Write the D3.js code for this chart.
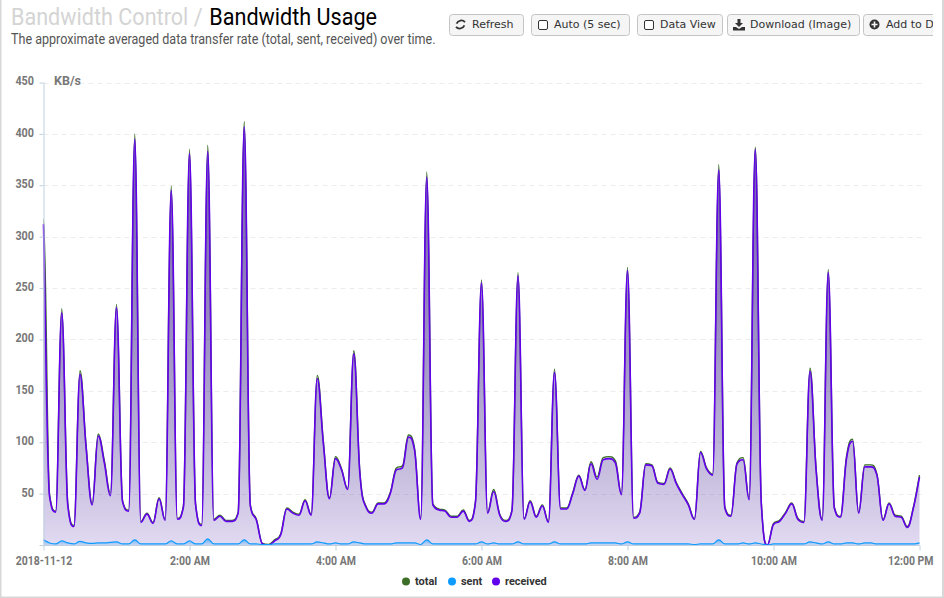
<!DOCTYPE html>
<html>
<head>
<meta charset="utf-8">
<title>Bandwidth Usage</title>
<script src="https://cdnjs.cloudflare.com/ajax/libs/d3/7.8.5/d3.min.js"></script>
<style>
    html, body { margin: 0; padding: 0; background: #fff; overflow: hidden; }
    svg { display: block; }
    text { font-family: Roboto, sans-serif; }
    .btn text { font-family: "DejaVu Sans", sans-serif; font-size: 11px; fill: #333; }
</style>
</head>
<body>
<svg id="graph" width="944" height="598"></svg>
<script>
// samples are 5 minutes apart, starting at midnight
var startTime = new Date(2018, 10, 12, 0, 0);
var received = [312,47,32,226,38,18,166,95,39,106,80,48,231,42,33,395,22,30,21,45,24,345,25,37,381,39,19,383,24,28,23,23,31,407,38,24,1,0,4,10,35,31,29,43,29,162,99,45,84,73,54,186,70,37,31,40,40,50,73,75,105,92,25,358,39,34,33,27,27,33,23,41,255,31,52,29,23,33,262,25,42,27,38,22,168,35,35,50,67,53,79,64,83,84,80,49,267,26,31,78,77,60,59,74,60,49,39,25,90,74,68,365,36,28,79,83,44,385,40,0,20,23,31,40,25,22,169,73,24,265,36,27,84,101,31,76,76,68,24,40,28,27,17,36,66];
var sent = [5,2,1,4,2,1,3.5,2,1.5,2,2,2.5,3,1,1,5,1,1,1,1,1,4,1,1,4,1,1,6,1,1,1,1,1,5,1,1,0.5,0.5,1,1,1,1,1,1,1,3,2,1,2,1,1,3,2,1,1,1,1,1,2,2,2,2,0.5,5,1,1,1,1,1,1,1,1,3,1,2,1,1,1,3,1,1,1,1,1,3,1,1,1,1,1,2,2,2,2,2,1,3,1,1,1,1,1,1,1,1,1,1,0.5,1,1,1,5,1,1,1,2,1,2,1,0,1,1,1,1,1,1,3,2,1,3,1,1,2,2,1,2,2,1,1,1,1,1,1,1,2];
var total = received.map(function (d, i) { return d + sent[i]; });

var yTicks = [0, 50, 100, 150, 200, 250, 300, 350, 400, 450];
var xTickHours = [0, 2, 4, 6, 8, 10, 12];
var xTickLabels = ["2018-11-12", "2:00 AM", "4:00 AM", "6:00 AM", "8:00 AM", "10:00 AM", "12:00 PM"];
var legendItems = [["total", "#3c6e28", 406, 415], ["sent", "#0d9bff", 452, 461], ["received", "#6200ee", 496, 505]];

// spline with 0.4 handles that never overshoots its neighbours
function softSpline(context) { this._context = context; }
softSpline.prototype = {
    areaStart: function () { this._line = 0; },
    areaEnd: function () { this._line = NaN; },
    lineStart: function () { this._pts = []; },
    point: function (px, py) { this._pts.push([+px, +py]); },
    lineEnd: function () {
        var p = this._pts, n = p.length, c = this._context, handles = [];
        for (var i = 0; i < n; i++) {
            var cur = p[i], prev = p[i - 1] || cur, next = p[i + 1] || cur;
            var lx = (1.5 * cur[0] + prev[0]) / 2.5, ly = (1.5 * cur[1] + prev[1]) / 2.5;
            var rx = (1.5 * cur[0] + next[0]) / 2.5, ry = (1.5 * cur[1] + next[1]) / 2.5;
            if (rx != lx) {
                var fix = (ry - ly) * (rx - cur[0]) / (rx - lx) + cur[1] - ry;
                ly += fix; ry += fix;
            }
            if (ly > prev[1] && ly > cur[1]) { ly = Math.max(prev[1], cur[1]); ry = 2 * cur[1] - ly; }
            else if (ly < prev[1] && ly < cur[1]) { ly = Math.min(prev[1], cur[1]); ry = 2 * cur[1] - ly; }
            if (ry > next[1] && ry > cur[1]) { ry = Math.max(next[1], cur[1]); ly = 2 * cur[1] - ry; }
            else if (ry < next[1] && ry < cur[1]) { ry = Math.min(next[1], cur[1]); ly = 2 * cur[1] - ry; }
            handles.push([lx, ly, rx, ry]);
        }
        if (this._line) c.lineTo(p[0][0], p[0][1]); else c.moveTo(p[0][0], p[0][1]);
        for (var j = 1; j < n; j++) {
            c.bezierCurveTo(handles[j - 1][2], handles[j - 1][3], handles[j][0], handles[j][1], p[j][0], p[j][1]);
        }
        if (this._line) c.closePath();
        this._line = 1 - this._line;
    }
};
var curve = function (context) { return new softSpline(context); };

// the installed Roboto runs wider than the reference, squeeze around the text origin
function condense(sel, k) {
    sel.attr("transform", function () {
        var tx = +d3.select(this).attr("x") || 0;
        return "translate(" + tx + ",0) scale(" + k + ",1) translate(" + (-tx) + ",0)";
    });
}

var svg = d3.select("#graph");
var x = d3.scaleTime()
    .domain([startTime, d3.timeHour.offset(startTime, 12)])
    .range([43.5, 919.5]);
var y = d3.scaleLinear().domain([0, 450]).range([545, 82.5]);
var timeOf = function (i) { return d3.timeMinute.offset(startTime, i * 5); };

// page frame
svg.append("rect").attr("x", 0).attr("y", 0).attr("width", 1.5).attr("height", 598).attr("fill", "#d8d8d8");
svg.append("rect").attr("x", 942).attr("y", 0).attr("width", 2).attr("height", 598).attr("fill", "#d8d8d8");
svg.append("rect").attr("x", 0).attr("y", 596.5).attr("width", 944).attr("height", 1.5).attr("fill", "#d8d8d8");

// heading
var head = svg.append("text").attr("x", 11).attr("y", 25).attr("font-size", 24);
head.append("tspan").attr("fill", "#d4d4d4").text("Bandwidth Control / ");
head.append("tspan").attr("fill", "#000").attr("dx", 1.5).text("Bandwidth Usage");
condense(head, 0.9);
var sub = svg.append("text").attr("x", 11).attr("y", 44).attr("font-size", 14).attr("fill", "#555")
    .text("The approximate averaged data transfer rate (total, sent, received) over time.");
condense(sub, 0.897);

// toolbar buttons
var buttons = [
    { x: 449, w: 74, label: "Refresh", tx: 472, icon: "refresh" },
    { x: 531, w: 98, label: "Auto (5 sec)", tx: 554, icon: "check" },
    { x: 637, w: 85, label: "Data View", tx: 660, icon: "check" },
    { x: 727, w: 132, label: "Download (Image)", tx: 750, icon: "download" },
    { x: 863, w: 100, label: "Add to Dashboard", tx: 886, icon: "plus" }
];
var defs = svg.append("defs");
defs.append("clipPath").attr("id", "btnClip").append("rect").attr("x", 0).attr("y", 0).attr("width", 933).attr("height", 598);
var btn = svg.append("g").attr("clip-path", "url(#btnClip)").selectAll("g").data(buttons).enter().append("g").attr("class", "btn");
btn.append("rect")
    .attr("x", d => d.x + 0.5).attr("y", 14.5).attr("width", d => d.w).attr("height", 21).attr("rx", 3)
    .attr("fill", "#f5f5f5").attr("stroke", "#c4c4c4");
btn.append("text").attr("x", d => d.tx).attr("y", 28).text(d => d.label);
btn.filter(d => d.icon == "check").append("rect")
    .attr("x", d => d.x + 7.5).attr("y", 20.5).attr("width", 9).attr("height", 9).attr("rx", 1.5)
    .attr("fill", "#fff").attr("stroke", "#333");
btn.filter(d => d.icon == "refresh").append("path")
    .attr("transform", d => "translate(" + (d.x + 6) + ",19)")
    .attr("d", "M10 3.2A5 5 0 0 0 1.6 4.6M1 7.8A5 5 0 0 0 9.4 6.4")
    .attr("fill", "none").attr("stroke", "#333").attr("stroke-width", 1.8);
btn.filter(d => d.icon == "download").append("path")
    .attr("transform", d => "translate(" + (d.x + 6) + ",19)")
    .attr("d", "M4.5 0H7.5V4H10L6 8L2 4H4.5ZM0 8H3L6 10L9 8H12V11.5H0Z")
    .attr("fill", "#333");
btn.filter(d => d.icon == "plus").append("circle")
    .attr("cx", d => d.x + 11.5).attr("cy", 24.5).attr("r", 5).attr("fill", "#333");
btn.filter(d => d.icon == "plus").append("path")
    .attr("transform", d => "translate(" + (d.x + 11.5) + ",24.5)")
    .attr("d", "M-3 0H3M0 -3V3").attr("stroke", "#f5f5f5").attr("stroke-width", 1.6);

// grid + axes
var yAxis = d3.axisLeft(y).tickValues(yTicks).tickSize(4).tickPadding(5)
    .tickFormat(d => d == 0 ? "" : d);
var xAxis = d3.axisBottom(x)
    .tickValues(xTickHours.map(h => d3.timeHour.offset(startTime, h)))
    .tickFormat((d, i) => xTickLabels[i])
    .tickSize(5).tickPadding(6);

svg.append("g").selectAll("line").data(yTicks.slice(1)).enter().append("line")
    .attr("x1", 43.5).attr("x2", 923)
    .attr("y1", d => Math.round(y(d)) + 0.5).attr("y2", d => Math.round(y(d)) + 0.5)
    .attr("stroke", "#ececec").attr("stroke-dasharray", "5,4");

var gradientFor = function (id, color, top, bottom) {
    var g = defs.append("linearGradient").attr("id", id)
        .attr("gradientUnits", "userSpaceOnUse")
        .attr("x1", 0).attr("x2", 0).attr("y1", y(d3.max(total))).attr("y2", y(0));
    g.append("stop").attr("offset", 0).attr("stop-color", color).attr("stop-opacity", top);
    g.append("stop").attr("offset", 1).attr("stop-color", color).attr("stop-opacity", bottom);
};
gradientFor("fillTotal", "#3c6e28", 0.55, 0.03);
gradientFor("fillReceived", "#5a20c8", 0.62, 0.15);
defs.append("linearGradient").attr("id", "fillSent").attr("gradientUnits", "userSpaceOnUse")
    .attr("x1", 0).attr("x2", 0).attr("y1", y(8)).attr("y2", y(0))
    .selectAll("stop").data([[0, 0.8], [1, 0.1]]).enter().append("stop")
    .attr("offset", d => d[0]).attr("stop-color", "#0d9bff").attr("stop-opacity", d => d[1]);

var area = d3.area().x((d, i) => x(timeOf(i))).y0(y(0)).y1(d => y(d)).curve(curve);
var line = d3.line().x((d, i) => x(timeOf(i))).y(d => y(d)).curve(curve);

var series = [
    { values: total, fill: "fillTotal", color: "#3c6e28", width: 1.4 },
    { values: received, fill: "fillReceived", color: "#6200ee", width: 1.6 },
    { values: sent, fill: "fillSent", color: "#0d9bff", width: 1.2 }
];
var plot = svg.append("g");
series.forEach(function (s) {
    plot.append("path").datum(s.values).attr("d", area).attr("fill", "url(#" + s.fill + ")");
    plot.append("path").datum(s.values).attr("d", line)
        .attr("fill", "none").attr("stroke", s.color).attr("stroke-width", s.width);
});

var gy = svg.append("g").attr("transform", "translate(43.5,0)").call(yAxis);
var gx = svg.append("g").attr("transform", "translate(0,545.5)").call(xAxis);
[gy, gx].forEach(function (g) {
    g.select(".domain").attr("stroke", "#c0d0e0");
    g.selectAll(".tick line").attr("stroke", "#c0d0e0");
    g.selectAll("text").attr("font-family", "Roboto, sans-serif").attr("font-size", 12)
        .attr("font-weight", 700).attr("fill", "#777");
});
gy.select(".domain").attr("d", "M0.5," + y(450) + "V" + y(0));
gx.select(".domain").attr("d", "M43.5,0H919.5");
gy.selectAll(".tick text").attr("x", -9.5).attr("dy", "0.2em");
condense(gy.selectAll(".tick text"), 0.9);
// last label stays inside the plot edge
gx.selectAll(".tick text").filter((d, i) => i == xTickLabels.length - 1).attr("text-anchor", "end").attr("x", 13.5);
condense(gx.selectAll(".tick text"), 0.875);

svg.append("rect").attr("x", 50).attr("y", 74).attr("width", 32).attr("height", 14).attr("fill", "#fff");
svg.append("text").attr("x", 54).attr("y", 85).attr("font-size", 12.5).attr("font-weight", 700).attr("fill", "#777").text("KB/s");

// legend
var leg = svg.append("g").selectAll("g").data(legendItems).enter().append("g");
leg.append("circle").attr("cx", d => d[2]).attr("cy", 581.5).attr("r", 4).attr("fill", d => d[1]);
var legText = leg.append("text").attr("x", d => d[3]).attr("y", 585).attr("font-size", 11.5).attr("font-weight", 700)
    .attr("fill", "#333").text(d => d[0]);
condense(legText, 0.95);
</script>
</body>
</html>
